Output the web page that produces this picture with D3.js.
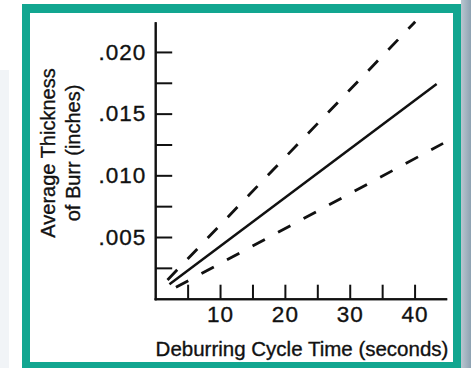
<!DOCTYPE html>
<html>
<head>
<meta charset="utf-8">
<script src="https://cdn.jsdelivr.net/npm/d3@7"></script>
<style>
  body { margin: 0; background: #fff; }
  svg { display: block; font-family: "Liberation Sans", Arial, Helvetica, sans-serif; }
  .axis path, .axis line { stroke: #111; stroke-width: 2; }
  .axis text { fill: #111; font-size: 22.5px; letter-spacing: 1px; stroke: #111; stroke-width: 0.35px; }
  .title { stroke: #111; stroke-width: 0.35px; }
</style>
</head>
<body>
<svg id="chart" width="471" height="368"></svg>
<script>
// burr thickness (inches) vs deburring cycle time (seconds)
const upperBound = [[1.9, 0.00152], [40.1, 0.02245]];
const average = [[2.2, 0.00117], [43.4, 0.0174]];
const lowerBound = [[3.2, 0.00092], [44.4, 0.01259]];

const xTicks = [10, 20, 30, 40];
const xMinorTicks = [5, 15, 25, 35];
const yTicks = [0.005, 0.010, 0.015, 0.020];
const yTickLabels = ['.005', '.010', '.015', '.020'];
const yMinorTicks = [0.0025, 0.0075, 0.0125, 0.0175];

const xTitle = 'Deburring Cycle Time (seconds)';
const yTitle = ['Average Thickness', 'of Burr (inches)'];

const svg = d3.select('#chart');

// page backdrop + teal frame
const defs = svg.append('defs');
const grad = defs.append('linearGradient').attr('id', 'side')
  .attr('x1', 0).attr('x2', 1).attr('y1', 0).attr('y2', 0);
grad.append('stop').attr('offset', '0%').attr('stop-color', '#b9c6d0');
grad.append('stop').attr('offset', '100%').attr('stop-color', '#8ea2b2');

svg.append('rect').attr('x', 461).attr('y', 0).attr('width', 10).attr('height', 368)
   .attr('fill', 'url(#side)');
svg.append('rect').attr('x', 0).attr('y', 70).attr('width', 9).attr('height', 298)
   .attr('fill', '#f1f4f7');
svg.append('rect').attr('x', 22).attr('y', 4).attr('width', 439).attr('height', 368)
   .attr('fill', '#12a690');
svg.append('rect').attr('x', 30).attr('y', 13).attr('width', 423).attr('height', 349)
   .attr('fill', '#fff');

const x = d3.scaleLinear()
  .domain([0, 44.8])
  .range([155.2, 445.7]);

const y = d3.scaleLinear()
  .domain([0, 0.02237])
  .range([298.7, 22.7]);

// minor ticks first, then the labelled axes on top
svg.append('g')
   .attr('class', 'axis')
   .attr('transform', 'translate(0,298.7)')
   .call(d3.axisBottom(x).tickValues(xMinorTicks).tickSize(-14).tickSizeOuter(0).tickFormat(''));

svg.append('g')
   .attr('class', 'axis')
   .attr('transform', 'translate(155.2,0)')
   .call(d3.axisLeft(y).tickValues(yMinorTicks).tickSize(-17).tickSizeOuter(0).tickFormat(''));

svg.append('g')
   .attr('class', 'axis')
   .attr('transform', 'translate(0,298.7)')
   .call(d3.axisBottom(x).tickValues(xTicks).tickSize(-14).tickSizeOuter(0).tickPadding(7));

svg.append('g')
   .attr('class', 'axis')
   .attr('transform', 'translate(155.2,0)')
   .call(d3.axisLeft(y)
     .tickValues(yTicks)
     .tickSize(-17)
     .tickSizeOuter(0)
     .tickPadding(9)
     .tickFormat((d, i) => yTickLabels[i]));

svg.selectAll('.axis .domain').attr('stroke-linecap', 'square');

const line = d3.line()
  .x(d => x(d[0]))
  .y(d => y(d[1]));

svg.append('path')
   .datum(average)
   .attr('d', line)
   .attr('fill', 'none')
   .attr('stroke', '#111')
   .attr('stroke-width', 2.5);

svg.selectAll('.bound')
   .data([upperBound, lowerBound])
   .enter()
   .append('path')
   .attr('class', 'bound')
   .attr('d', line)
   .attr('fill', 'none')
   .attr('stroke', '#111')
   .attr('stroke-width', 2.8)
   .attr('stroke-dasharray', '14,15');

// titles
svg.append('text')
   .attr('class', 'title')
   .attr('x', 302)
   .attr('y', 356)
   .attr('text-anchor', 'middle')
   .attr('font-size', '20.5px')
   .attr('fill', '#111')
   .text(xTitle);

svg.selectAll('.ytitle')
   .data(yTitle)
   .enter()
   .append('text')
   .attr('class', 'ytitle title')
   .attr('transform', (d, i) => 'translate(' + (55 + i * 25) + ',153) rotate(-90)')
   .attr('text-anchor', 'middle')
   .attr('font-size', '20px')
   .attr('fill', '#111')
   .text(d => d);
</script>
</body>
</html>
